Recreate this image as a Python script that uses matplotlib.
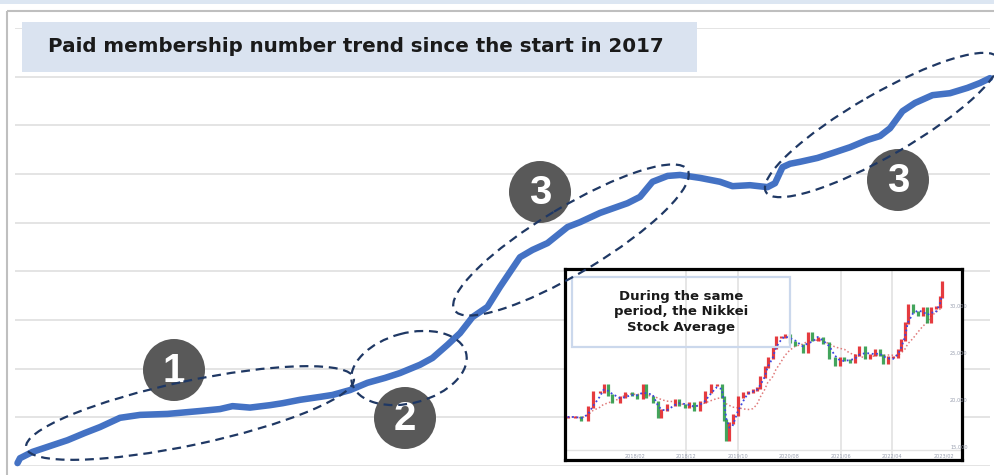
import numpy as np
import pandas as pd
import matplotlib
matplotlib.use("Agg")
import matplotlib.pyplot as plt
from matplotlib.patches import Rectangle, Ellipse, Circle

# paid members (grid units, arbitrary scale) vs months since start of 2017
months = [0.2, 0.4, 1.4, 2.8, 4.2, 5.6, 6.8, 8.4, 10.0, 12.2, 14.8, 16.4, 17.4, 18.8, 20.4,
          21.4, 22.8, 24.4, 25.4, 26.8, 28.2, 29.6, 30.8, 32.4, 33.4, 34.6, 35.6, 36.6, 37.8, 38.8,
          40.4, 41.4, 42.6, 44.2, 45.2, 46.8, 49.0, 50.0, 51.0, 52.2, 53.2, 54.8, 56.4, 57.4, 58.8,
          60.2, 60.8, 61.4, 62.0, 62.8, 64.2, 65.4, 66.8, 68.2, 69.2, 70.0, 71.0, 72.0, 73.4, 74.8,
          76.2, 77.2, 78.0]
members = [0.06, 0.16, 0.29, 0.41, 0.53, 0.68, 0.80, 0.99, 1.05, 1.07, 1.13, 1.17, 1.23, 1.20, 1.25,
           1.29, 1.36, 1.42, 1.46, 1.56, 1.71, 1.81, 1.91, 2.08, 2.22, 2.49, 2.73, 3.06, 3.27, 3.68,
           4.29, 4.44, 4.58, 4.91, 5.01, 5.20, 5.40, 5.53, 5.84, 5.96, 5.98, 5.92, 5.84, 5.75, 5.77,
           5.73, 5.81, 6.14, 6.21, 6.25, 6.33, 6.43, 6.55, 6.70, 6.78, 6.94, 7.29, 7.46, 7.62, 7.66,
           7.77, 7.87, 7.97]

# Nikkei Stock Average closes for the inset (yen)
nk_month = [0.0, 1.4, 2.7, 3.9, 4.9, 6.2, 7.0, 7.8, 8.7, 10.1, 11.1, 12.4, 13.4, 14.6, 15.3,
            16.5, 17.5, 18.2, 19.2, 20.8, 21.7, 22.7, 23.6, 24.6, 25.6, 26.6, 27.9, 28.9, 29.9, 30.3,
            30.8, 31.4, 32.0, 33.0, 34.0, 34.9, 35.9, 36.7, 37.4, 38.2, 38.8, 39.8, 40.4, 41.3, 42.1,
            43.1, 44.2, 45.6, 46.6, 47.5, 48.5, 49.5, 50.8, 51.8, 52.8, 53.7, 54.7, 55.7, 56.6, 57.6,
            58.6, 59.6, 60.5, 61.1, 62.1, 63.1, 64.0, 64.6, 65.4, 66.0, 67.0, 67.9, 68.9, 69.8, 70.4,
            71.4, 72.2, 72.6]
nk_close = [18190, 18190, 17870, 19250, 20850, 20850, 21590, 20530, 19790, 20320, 20740, 20530, 20210, 21590, 20320,
            19790, 18190, 18930, 19470, 20000, 19470, 19250, 19680, 18930, 19790, 20850, 21590, 21590, 20320, 17870,
            15740, 17550, 18400, 20320, 20740, 20850, 21060, 21280, 22450, 23510, 24470, 25530, 26700, 26700, 26910,
            26170, 25850, 25110, 27130, 26380, 26600, 26060, 24470, 23720, 24470, 24250, 24040, 24790, 25640, 24470,
            24790, 25320, 24790, 23940, 24570, 24570, 25320, 26380, 28190, 30110, 29360, 29040, 29790, 28300, 29790,
            29890, 30960, 32550]
nk_ticks = [13, 23, 33, 43, 53, 63, 73]
nk_tick_labels = ["2018/02", "2018/12", "2019/10", "2020/08", "2021/06", "2022/04", "2023/02"]
nk_levels = [15000, 20000, 25000, 30000]

title = "Paid membership number trend since the start in 2017"
inset_note = "During the same\nperiod, the Nikkei\nStock Average"

W, H = 995, 475
fig = plt.figure(figsize=(W / 100, H / 100), dpi=100)
fig.patch.set_facecolor("white")

# main chart
ax = fig.add_axes([15 / W, (H - 466) / H, 975 / W, 438 / H], zorder=1)
ax.plot(months, members, color="#4472C4", lw=4.7, solid_capstyle="round",
        solid_joinstyle="round", clip_on=False, zorder=3)
ax.set_xlim(0, 78)
ax.set_ylim(0, 9)
ax.set_yticks(range(10))
ax.set_xticks([])
ax.grid(axis="y", color="#DCDCDC", lw=1.1)
ax.tick_params(left=False, labelleft=False)
for s in ax.spines.values():
    s.set_visible(False)

# inset: Nikkei candles
ins = fig.add_axes([565 / W, (H - 460) / H, 397 / W, 191 / H], zorder=3)
ins.set_xlim(-0.5, 76.5)
ins.set_ylim(13610, 33940)
closes = pd.Series(nk_close, dtype=float)
opens = closes.shift(1).fillna(closes.iloc[0])
lo = np.minimum(opens, closes) - 110
hi = np.maximum(opens, closes) + 110
cols = np.where(closes >= opens, "#E3262A", "#2E9B4A")
ins.vlines(nk_month, lo, hi, colors=cols, lw=2.3, alpha=0.9, zorder=3)
ins.plot(nk_month, closes.rolling(3, min_periods=1).mean(), color="#3A46E0",
         ls=(0, (1, 1.5)), lw=1.3, zorder=4)
ins.plot(nk_month, closes.rolling(8, min_periods=1).mean(), color="#E07A7A",
         ls=(0, (1, 1.5)), lw=1.1, zorder=2)
ins.set_xticks(nk_ticks[1:3] + nk_ticks[4:6])
ins.set_yticks([])
ins.grid(axis="x", color="#E2E2E2", lw=1.2)
ins.tick_params(bottom=False, labelbottom=False)
ins.axhline(14700, color="#E2E2E2", lw=1.0)
for t, lab in zip(nk_ticks, nk_tick_labels):
    ins.text(t, 14050, lab, fontsize=3.6, color="#9AA0B0", ha="center", va="center")
for lv in nk_levels:
    ins.text(75.9, lv, f"{lv:,}", fontsize=3.6, color="#9AA0B0", ha="center", va="center")
for s in ins.spines.values():
    s.set_color("black")
    s.set_linewidth(2.3)

# overlay for frame, title box, numbered markers and dashed ellipses
ov = fig.add_axes([0, 0, 1, 1], zorder=5)
ov.set_xlim(0, W)
ov.set_ylim(H, 0)
ov.axis("off")
ov.patch.set_alpha(0)

ov.add_patch(Rectangle((0, 0), W, 3.5, color="#DCE6F2", lw=0, zorder=1))
ov.add_patch(Rectangle((6.5, 10.5), W + 10, H, fill=False, ec="#BFBFBF", lw=1.5, zorder=1))
ov.add_patch(Rectangle((22, 22), 675, 50, color="#DAE3F0", lw=0, zorder=2))
ov.text(48, 47, title, fontsize=14.3, fontweight="bold", color="#1A1A1A",
        ha="left", va="center", zorder=3)

ov.add_patch(Rectangle((572, 277), 218, 70, fill=False, ec="#CBD8EC", lw=1.6, zorder=2))
ov.text(681, 312, inset_note, fontsize=9.5, fontweight="bold", color="#1A1A1A",
        ha="center", va="center", linespacing=1.22, zorder=3)

badges = [("1", 174, 370), ("2", 405, 418), ("3", 540, 192), ("3", 898, 180)]
for lab, cx, cy in badges:
    ov.add_patch(Circle((cx, cy), 31, color="#595959", lw=0, zorder=4))
    ov.text(cx, cy + 1, lab, fontsize=29, fontweight="bold", color="white",
            family="Liberation Sans", ha="center", va="center", zorder=5)

ellipses = [(190, 413, 335, 64, -12), (409, 368, 118, 70, -15),
            (571, 240, 272, 66, -31), (882, 125, 268, 62, -30)]
for cx, cy, w, h, a in ellipses:
    ov.add_patch(Ellipse((cx, cy), w, h, angle=a, fill=False, ec="#1F3864",
                         lw=1.6, ls=(0, (4, 2.6)), zorder=6))

fig.savefig("out.png", dpi=100)
